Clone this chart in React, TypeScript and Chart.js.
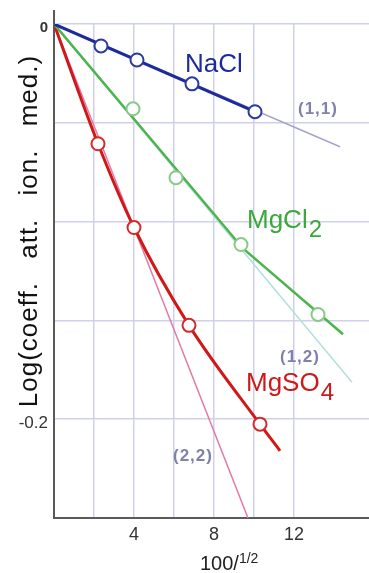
import React, { useEffect, useRef } from 'react';
import { Chart, registerables } from 'chart.js';
Chart.register(...registerables);

// ---- data (x = 100·I^1/2, y = log activity coefficient) ----
const naclX = [2.35, 4.15, 6.9, 10.05];
const naclY = [-0.0111, -0.0182, -0.0303, -0.0444];
const naclLineX = [0, 10.1];
const naclLineY = [0, -0.0446];
const naclLimitX = [0, 14.3];
const naclLimitY = [0, -0.0621];

const mgcl2X = [3.95, 6.1, 9.35, 13.2];
const mgcl2Y = [-0.0429, -0.0778, -0.1116, -0.147];
const mgcl2LineX = [0, 9.45, 14.45];
const mgcl2LineY = [0, -0.1136, -0.157];
const mgcl2LimitX = [0, 14.9];
const mgcl2LimitY = [0, -0.1813];

const mgso4X = [2.2, 4.0, 6.75, 10.3];
const mgso4Y = [-0.0606, -0.103, -0.1525, -0.2025];
const mgso4LineX = [0, 2.2, 4.0, 6.75, 10.3, 11.3];
const mgso4LineY = [0, -0.0606, -0.103, -0.1525, -0.2025, -0.216];
const mgso4LimitX = [0, 9.7];
const mgso4LimitY = [0, -0.25];

const xTickLabels = [4, 8, 12];
const yTickLabels = [0, -0.2];

const seriesNames = ['NaCl', 'MgCl', 'MgSO'];
const seriesSubs = ['', '2', '4'];
const limitNames = ['(1,1)', '(1,2)', '(2,2)'];

const FONT = '"Liberation Sans", Arial, Helvetica, sans-serif';

const zip = (xs: number[], ys: number[]) => xs.map((x, i) => ({ x, y: ys[i] }));

const BLUE = '#1c2a9c';
const GREEN = '#4cb44c';
const RED = '#d01818';
const GRAY_LBL = '#8080ac';

// annotation placement (data coordinates)
const labelSpecs = [
  { text: seriesNames[0], sub: seriesSubs[0], x: 6.55, y: -0.0242, color: BLUE, size: 26, bold: false, ls: 0 },
  { text: limitNames[0], sub: '', x: 12.2, y: -0.0455, color: GRAY_LBL, size: 17, bold: true, ls: 1 },
  { text: seriesNames[1], sub: seriesSubs[1], x: 9.65, y: -0.103, color: '#3aa83a', size: 26, bold: false, ls: 0 },
  { text: limitNames[1], sub: '', x: 11.3, y: -0.1712, color: GRAY_LBL, size: 17, bold: true, ls: 1 },
  { text: seriesNames[2], sub: seriesSubs[2], x: 9.6, y: -0.1859, color: '#cc1a1a', size: 26, bold: false, ls: 0 },
  { text: limitNames[2], sub: '', x: 5.95, y: -0.2212, color: GRAY_LBL, size: 17, bold: true, ls: 1 },
];

const annotPlugin = {
  id: 'annot',
  afterDraw(chart: any) {
    const ctx = chart.ctx;
    const xs = chart.scales.x;
    const ys = chart.scales.y;
    const area = chart.chartArea;
    ctx.save();
    // axis line extends above the 0 line
    ctx.strokeStyle = '#5a5a5a';
    ctx.lineWidth = 2;
    ctx.beginPath();
    ctx.moveTo(area.left, area.top - 14);
    ctx.lineTo(area.left, area.top + 1);
    ctx.stroke();

    ctx.textBaseline = 'alphabetic';
    ctx.textAlign = 'left';
    for (const l of labelSpecs) {
      const px = xs.getPixelForValue(l.x);
      const py = ys.getPixelForValue(l.y);
      ctx.fillStyle = l.color;
      (ctx as any).letterSpacing = `${l.ls}px`;
      ctx.font = `${l.bold ? 'bold ' : ''}${l.size}px ${FONT}`;
      ctx.fillText(l.text, px, py);
      if (l.sub) {
        const w = ctx.measureText(l.text).width;
        ctx.font = `${l.size - 2}px ${FONT}`;
        ctx.fillText(l.sub, px + w + 1, py + 9);
      }
    }
    (ctx as any).letterSpacing = '0px';

    // y title
    ctx.save();
    ctx.fillStyle = '#111';
    ctx.font = `26px ${FONT}`;
    (ctx as any).letterSpacing = '1px';
    (ctx as any).wordSpacing = '15px';
    ctx.translate(area.left - 17, (area.top + area.bottom) / 2 - 40);
    ctx.rotate(-Math.PI / 2);
    ctx.textAlign = 'center';
    ctx.fillText('Log(coeff. att. ion. med.)', 0, 0);
    ctx.restore();

    // x title with superscript
    ctx.fillStyle = '#222';
    ctx.font = `20px ${FONT}`;
    const tx = xs.getPixelForValue(7.3);
    const ty = chart.height - 3;
    ctx.fillText('100/', tx, ty);
    const w = ctx.measureText('100/').width;
    ctx.font = `14px ${FONT}`;
    ctx.fillText('1/2', tx + w, ty - 7);
    ctx.restore();
  },
};

export default function App() {
  const ref = useRef<HTMLCanvasElement>(null);
  useEffect(() => {
    if (!ref.current) return;
    const thick = (data: any, color: string, width: number, order: number, mono = false) => ({
      data,
      showLine: true,
      borderColor: color,
      borderWidth: width,
      pointRadius: 0,
      fill: false,
      order,
      cubicInterpolationMode: mono ? 'monotone' : 'default',
    });
    const marks = (data: any, color: string) => ({
      data,
      showLine: false,
      pointRadius: 6.5,
      pointBorderWidth: 2,
      pointBorderColor: color,
      pointBackgroundColor: '#ffffff',
      order: 1,
    });
    const chart = new Chart(ref.current, {
      type: 'scatter',
      data: {
        datasets: [
          thick(zip(naclLimitX, naclLimitY), '#a3a3cc', 1.5, 3),
          thick(zip(mgcl2LimitX, mgcl2LimitY), '#b2e0db', 1.5, 3),
          thick(zip(mgso4LimitX, mgso4LimitY), '#e27aa6', 1.5, 3),
          thick(zip(naclLineX, naclLineY), BLUE, 3, 2),
          thick(zip(mgcl2LineX, mgcl2LineY), GREEN, 2.5, 2),
          thick(zip(mgso4LineX, mgso4LineY), RED, 3, 2, true),
          marks(zip(naclX, naclY), '#2a3aa4'),
          marks(zip(mgcl2X, mgcl2Y), '#88c988'),
          marks(zip(mgso4X, mgso4Y), '#d42a2a'),
        ] as any,
      },
      options: {
        animation: false,
        responsive: false,
        devicePixelRatio: 1,
        layout: { autoPadding: false, padding: { top: 24, right: 0, left: 0, bottom: 0 } },
        plugins: { legend: { display: false }, tooltip: { enabled: false } },
        scales: {
          x: {
            type: 'linear',
            min: 0,
            max: 15.75,
            afterFit(s: any) {
              s.height = 55;
              s.paddingLeft = 0;
              s.paddingRight = 0;
            },
            afterBuildTicks(s: any) {
              s.ticks = s.ticks.filter((t: any) => Number.isInteger(Math.round(t.value * 1000) / 2000));
            },
            grid: { color: '#cfd1e8', lineWidth: 1.5, drawTicks: false },
            border: { color: '#5a5a5a', width: 2 },
            ticks: {
              stepSize: 2,
              padding: 6,
              color: '#333',
              font: { size: 18, family: FONT },
              callback: (v: any) => (xTickLabels.includes(Number(v)) ? String(v) : ''),
            },
          },
          y: {
            type: 'linear',
            min: -0.25,
            max: 0,
            afterFit(s: any) {
              s.width = 54;
              s.paddingTop = 0;
              s.paddingBottom = 0;
            },
            grid: { color: '#cfd1e8', lineWidth: 1.5, drawTicks: false },
            border: { color: '#5a5a5a', width: 2 },
            ticks: {
              stepSize: 0.05,
              padding: 6,
              color: '#333',
              font: (c: any) =>
                c.tick && Math.abs(c.tick.value) < 1e-9
                  ? { size: 15, weight: 'bold', family: FONT, lineHeight: 0.45 }
                  : { size: 17, family: FONT, lineHeight: 0.45 },
              callback: (v: any) => {
                const hit = yTickLabels.find((t) => Math.abs(t - Number(v)) < 1e-9);
                return hit === undefined ? '' : ['', String(hit)];
              },
            },
          },
        },
      } as any,
      plugins: [annotPlugin],
    });
    return () => chart.destroy();
  }, []);
  return (
    <div style={{ position: 'absolute', left: 0, top: 0, width: 369, height: 573, background: '#fff' }}>
      <canvas ref={ref} width={369} height={573} style={{ display: 'block' }} />
    </div>
  );
}
